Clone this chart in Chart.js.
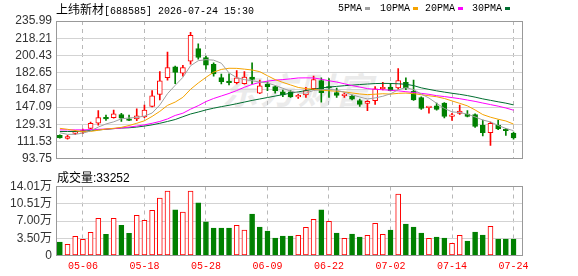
<!DOCTYPE html>
<html><head><meta charset="utf-8">
<script src="https://cdn.jsdelivr.net/npm/chart.js@4.4.0/dist/chart.umd.min.js"></script>
<style>
html,body{margin:0;padding:0;background:#fff;}
#wrap{position:relative;width:578px;height:276px;overflow:hidden;background:#fff;}
canvas{position:absolute;left:0;}
.t{position:absolute;white-space:nowrap;line-height:12px;color:#000;}
.cjk{font-family:"Noto Sans CJK SC";font-size:12px;}
.mono{font-family:"Liberation Mono";font-size:10px;}
.sans{font-family:"Liberation Sans";font-size:12px;}
.sq{position:absolute;width:5px;height:3px;top:7px;}
.wm{position:absolute;left:222px;top:68px;font-family:"Noto Sans CJK SC";font-weight:700;font-style:italic;font-size:36px;line-height:40px;color:#ebebeb;letter-spacing:2px;white-space:nowrap;}
</style></head><body>
<div id="wrap">
<div class="wm">东方财富</div>
<canvas id="pc" width="578" height="170" style="top:0"></canvas>
<canvas id="vc" width="578" height="106" style="top:170px"></canvas>
<div class="t" style="left:56px;top:3px"><span class="cjk">上纬新材</span><span class="mono">[688585] 2026-07-24 15:30</span></div>
<div class="t mono" style="left:338px;top:3px">5PMA</div><div class="sq" style="left:365px;background:#a0a0a0"></div>
<div class="t mono" style="left:380px;top:3px">10PMA</div><div class="sq" style="left:413px;background:#f5a300"></div>
<div class="t mono" style="left:425px;top:3px">20PMA</div><div class="sq" style="left:458px;background:#ff00ff"></div>
<div class="t mono" style="left:472px;top:3px">30PMA</div><div class="sq" style="left:505px;background:#006e30"></div>
<div class="t" style="left:57px;top:171px"><span class="cjk">成交量</span><span class="sans">:33252</span></div>
</div>
<script>
const dates = ['04-28','04-29','04-30','05-06','05-07','05-08','05-11','05-12','05-13','05-14','05-15','05-18','05-19','05-20','05-21','05-22','05-25','05-26','05-27','05-28','05-29','06-01','06-02','06-03','06-04','06-05','06-08','06-09','06-10','06-11','06-12','06-15','06-16','06-17','06-18','06-22','06-23','06-24','06-25','06-26','06-29','06-30','07-01','07-02','07-03','07-06','07-07','07-08','07-09','07-10','07-13','07-14','07-15','07-16','07-17','07-20','07-21','07-22','07-23','07-24'];
const tickDates = ['05-06','05-18','05-28','06-09','06-22','07-02','07-14','07-24'];

const open  = [118.0,114.8,120.0,121.3,125.2,130.4,136.6,136.2,139.5,134.9,134.9,136.9,147.9,160.3,177.5,188.6,182.1,194.4,207.4,198.3,191.2,177.5,173.6,172.3,171.3,178.2,161.6,170.7,168.4,162.9,162.9,157.7,159.6,166.1,174.6,167.4,162.2,159.0,158.3,153.8,150.9,153.8,166.1,167.8,166.8,172.6,163.5,157.0,146.6,148.3,151.2,137.5,140.5,139.8,139.5,128.4,120.6,128.4,124.5,120.3];
const high  = [118.6,118.0,122.9,124.5,131.7,143.4,138.8,144.0,140.8,138.8,145.3,149.2,164.2,183.7,203.8,189.5,190.2,224.3,212.3,199.9,192.8,181.1,181.4,184.7,183.7,192.8,174.9,173.3,169.1,164.8,164.2,160.3,167.4,179.1,177.2,176.5,166.8,161.9,159.6,155.4,153.8,168.4,172.6,171.6,186.9,177.2,174.9,157.7,147.3,151.2,151.8,140.8,149.2,143.4,140.1,133.6,131.7,133.6,125.2,121.3];
const low   = [115.0,114.1,118.7,119.7,124.5,128.4,133.3,135.6,132.3,133.0,133.0,136.2,147.3,154.4,174.9,171.3,179.1,191.5,196.7,186.3,179.1,171.0,170.0,171.0,170.7,171.0,160.9,164.2,161.6,158.0,157.0,156.1,157.0,165.2,152.2,157.0,157.0,157.0,154.4,147.9,143.4,149.9,164.8,163.9,165.5,165.2,154.1,144.7,140.8,144.0,135.9,133.3,139.5,136.9,126.2,117.4,107.6,123.9,118.0,114.1];
const close = [115.4,116.7,120.6,122.9,130.4,136.2,134.9,140.1,135.6,133.3,138.2,144.0,158.7,174.3,187.9,183.0,187.9,221.1,198.3,190.5,181.4,173.3,172.3,177.2,178.2,175.6,169.1,168.1,164.2,159.6,157.7,158.3,164.2,175.6,161.9,166.8,159.3,159.9,155.4,149.9,153.1,166.1,167.4,164.2,174.6,166.8,154.4,145.7,147.3,144.7,137.5,138.5,143.1,137.5,127.1,120.6,130.4,124.5,122.9,115.4];

const ma5  = [120.6,119.0,119.0,120.3,122.5,126.5,129.7,131.9,135.0,135.9,136.5,137.8,141.0,149.3,161.0,169.6,177.8,189.8,195.0,196.1,195.6,192.4,182.4,177.5,175.5,174.3,173.0,172.0,169.5,166.5,163.6,161.8,161.5,164.3,165.0,165.6,164.5,162.5,159.8,157.5,155.5,156.6,158.3,160.8,165.0,167.2,165.2,160.6,156.5,151.0,145.8,142.2,141.5,139.8,137.0,133.8,131.8,128.2,125.1,122.8];
const ma10 = [125.2,124.2,122.9,121.6,122.0,123.2,124.5,125.2,126.2,128.1,130.4,133.0,137.5,142.7,148.9,152.3,157.2,165.5,172.0,177.8,183.2,186.0,187.2,187.1,186.3,185.4,183.7,179.5,175.5,172.6,170.0,167.4,166.2,165.6,164.6,164.0,163.5,162.8,161.7,160.7,160.0,160.4,160.9,160.5,161.3,161.6,161.0,159.9,158.8,157.8,156.0,153.5,151.0,148.4,144.2,139.4,136.7,134.6,132.8,129.6];
const ma20 = [123.6,123.6,123.6,123.6,123.9,124.2,124.5,124.9,125.5,126.5,127.5,128.8,130.4,132.3,134.9,138.5,140.8,145.0,148.6,152.8,156.0,158.6,161.2,164.2,167.6,170.5,172.6,173.9,174.9,175.5,176.3,177.2,177.3,177.2,175.9,174.3,173.0,171.2,169.3,167.8,166.2,165.5,165.0,164.5,163.9,163.0,162.2,161.3,160.3,158.9,158.0,156.9,155.8,154.4,153.0,151.3,149.7,148.1,146.2,143.9];
const ma30 = [121.9,121.9,121.9,122.3,122.9,123.6,124.2,124.9,125.5,125.8,126.5,127.5,128.8,130.4,132.3,134.3,137.2,140.0,142.0,144.2,146.0,147.6,149.0,150.6,152.3,154.0,155.5,157.0,158.5,160.0,161.5,162.8,164.2,165.6,166.9,167.8,168.5,169.2,169.8,170.4,170.9,171.4,171.6,171.5,171.2,170.7,169.3,167.0,165.4,163.9,162.6,161.4,160.3,159.0,157.4,155.6,154.1,152.6,151.2,149.4];

const volume = [27200,22500,38800,32700,47000,75600,42900,75600,61300,44900,81700,71500,91900,116400,130700,92500,88400,130700,106800,68600,55800,55800,55800,61300,51700,84300,57800,49600,35300,39400,39400,40800,57200,73500,92500,69400,45500,34700,43500,37400,40800,65400,42900,51700,124600,63900,57800,45500,34700,37400,35300,24500,40800,29200,47600,41500,59200,33500,33400,33252];

const priceTicks = [93.75,111.53,129.31,147.09,164.87,182.65,200.43,218.21,235.99];
const volTicks = [0,35025,70050,105075,140100];
const volTickLabels = ['0','3.50万','7.00万','10.51万','14.01万'];

const UP = '#ff0000', DOWN = '#008000';
const isUp = close.map((c,i) => c >= open[i]);
const volUp = close.map((c,i) => i === 0 ? c >= open[i] : c >= close[i-1]);
const tickIdx = tickDates.map(d => dates.indexOf(d));

const frame = {
  id: 'frame',
  afterDraw(c) {
    const a = c.chartArea, ctx = c.ctx;
    const l = Math.floor(a.left) + 0.5, t = Math.floor(a.top) + 0.5;
    const r = Math.floor(a.right) + 0.5, b = Math.floor(a.bottom) + 0.5;
    ctx.save();
    ctx.strokeStyle = '#999999';
    ctx.lineWidth = 1;
    ctx.strokeRect(l, t, r - l, b - t);
    ctx.restore();
  }
};

function xAxis(showLabels) {
  return {
    type: 'linear', min: -0.5, max: 60.1, offset: false,
    afterBuildTicks(s) { s.ticks = tickIdx.map(v => ({ value: v })); },
    ticks: {
      display: showLabels, autoSkip: false, maxRotation: 0, minRotation: 0,
      color: '#ff0000', font: { family: 'Liberation Mono', size: 10 }, padding: 5,
      callback: v => dates[v]
    },
    grid: { display: true, drawOnChartArea: true, offset: false, color: '#b8b8b8', drawTicks: false, lineWidth: 1 },
    border: { display: false, dash: [4, 4] },
    afterFit(s) { s.height = showLabels ? 20.5 : 0; }
  };
}

const pts = arr => arr.map((v, i) => ({ x: i, y: v }));
const line = (arr, color) => ({
  type: 'line', data: pts(arr), borderColor: color, borderWidth: 1,
  pointRadius: 0, tension: 0, order: 0, fill: false
});

new Chart(document.getElementById('pc'), {
  type: 'bar',
  data: {
    datasets: [
      line(ma5, '#a0a0a0'),
      line(ma10, '#f5a300'),
      line(ma20, '#ff00ff'),
      line(ma30, '#006e30'),
      {
        type: 'bar', order: 1, grouped: false, barThickness: 5, minBarLength: 1.5,
        data: close.map((c, i) => ({ x: i, y: [open[i], c] })),
        backgroundColor: isUp.map(u => u ? '#ffffff' : DOWN),
        borderColor: isUp.map(u => u ? UP : DOWN),
        borderWidth: 1, borderSkipped: false
      },
      {
        type: 'bar', order: 2, grouped: false, barThickness: 1,
        data: close.map((c, i) => ({ x: i, y: [low[i], high[i]] })),
        backgroundColor: isUp.map(u => u ? UP : DOWN),
        borderWidth: 0
      }
    ]
  },
  options: {
    responsive: false, animation: false,
    layout: { padding: { top: 21, right: 56, bottom: 4, left: 0 } },
    plugins: { legend: { display: false }, tooltip: { enabled: false } },
    scales: {
      x: xAxis(false),
      y: {
        type: 'linear', min: 93.75, max: 235.99,
        afterBuildTicks(s) { s.ticks = priceTicks.map(v => ({ value: v })); },
        ticks: { autoSkip: false, callback: v => v.toFixed(2), color: '#333333', font: { family: 'Liberation Sans', size: 12 }, padding: 4 },
        grid: { color: '#d3d3d3', drawTicks: false },
        border: { display: false },
        afterFit(s) { s.width = 56; }
      }
    }
  },
  plugins: [frame]
});

new Chart(document.getElementById('vc'), {
  type: 'bar',
  data: {
    datasets: [{
      data: volume.map((v, i) => ({ x: i, y: v })),
      barThickness: 5,
      backgroundColor: volUp.map(u => u ? '#ffffff' : DOWN),
      borderColor: volUp.map(u => u ? UP : DOWN),
      borderWidth: 1, borderSkipped: false
    }]
  },
  options: {
    responsive: false, animation: false,
    layout: { padding: { top: 16.5, right: 56, bottom: 0, left: 0 } },
    plugins: { legend: { display: false }, tooltip: { enabled: false } },
    scales: {
      x: xAxis(true),
      y: {
        type: 'linear', min: 0, max: 140100,
        afterBuildTicks(s) { s.ticks = volTicks.map(v => ({ value: v })); },
        ticks: { autoSkip: false, callback: (v, i) => volTickLabels[i], color: '#333333', font: { family: "'Liberation Sans', 'Noto Sans CJK SC'", size: 12 }, padding: 4 },
        grid: { color: '#d3d3d3', drawTicks: false },
        border: { display: false },
        afterFit(s) { s.width = 56; }
      }
    }
  },
  plugins: [frame]
});
</script>
</body></html>
